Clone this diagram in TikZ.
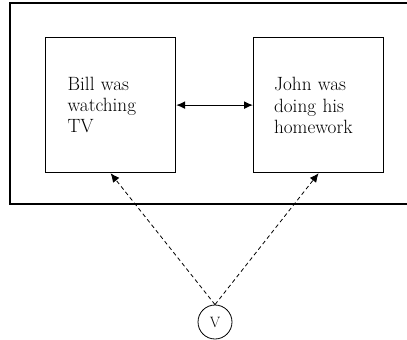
\documentclass[tikz,border=0pt]{standalone}
\usetikzlibrary{arrows.meta}
\begin{document}
\begin{tikzpicture}[x=1pt,y=1pt,
  frame/.style={line width=2.4pt},
  eventbox/.style={draw, line width=1.2pt, rectangle, minimum width=130pt, minimum height=135pt,
    text width=86pt, inner xsep=22pt, align=left, anchor=north west,
    font=\fontsize{19.2}{20.7}\selectfont},
  observer/.style={draw, circle, line width=0.8pt, minimum size=34pt, inner sep=0pt,
    font=\fontsize{15}{15}\selectfont},
  link/.style={line width=1.2pt, {Latex[length=9pt,width=8pt]}-{Latex[length=9pt,width=8pt]}},
  sight/.style={line width=0.8pt, dash pattern=on 4pt off 3pt, -{Latex[length=9pt,width=8pt]}}]
  \useasboundingbox (0,0) rectangle (407,-340);
  \clip (0,0) rectangle (407,-340);
  % outer frame, running past the right edge
  \draw[frame] (10,-3) rectangle (420,-204);
  % the two events
  \node[eventbox] (L) at (45,-37) {Bill was\\watching\\TV};
  \node[eventbox, inner xsep=20.5pt, text width=89pt] (R) at (253,-37) {\vspace{1.5pt}John was\\doing his\\homework};
  \draw[link] (L.east) -- (R.west);
  % the viewer
  \node[observer] (V) at (215,-322) {V};
  \draw[sight] (V.north) -- (L.south);
  \draw[sight] (V.north) -- (R.south);
\end{tikzpicture}
\end{document}
